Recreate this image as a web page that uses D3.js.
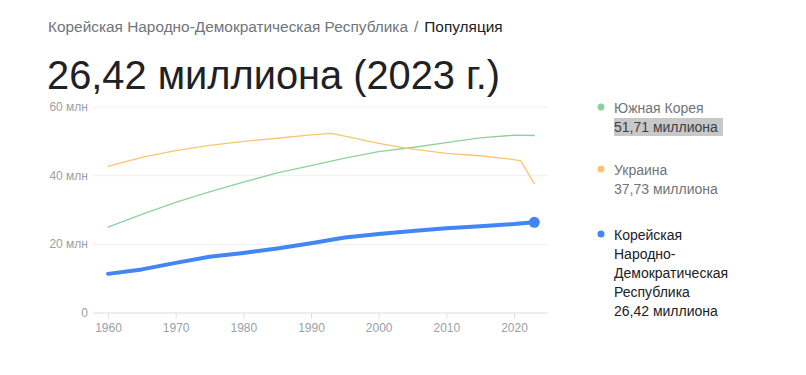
<!DOCTYPE html>
<html>
<head>
<meta charset="utf-8">
<script src="https://cdn.jsdelivr.net/npm/d3@7"></script>
<style>
  body { margin: 0; background: #fff; font-family: "Liberation Sans", Arial, sans-serif; }
  svg text { font-family: "Liberation Sans", Arial, sans-serif; }
</style>
</head>
<body>
<div id="chart"></div>
<script>
// data (millions)
const krYears = [1960, 1965, 1970, 1975, 1980, 1985, 1990, 1995, 2000, 2005, 2010, 2015, 2020, 2023];
const krValues = [25.0, 28.7, 32.2, 35.3, 38.1, 40.8, 42.9, 45.1, 47.0, 48.2, 49.6, 51.0, 51.8, 51.7];

const uaYears = [1960, 1965, 1970, 1975, 1980, 1985, 1990, 1993, 1995, 2000, 2004, 2010, 2015, 2020, 2021, 2023];
const uaValues = [42.7, 45.3, 47.3, 48.8, 50.0, 50.9, 51.9, 52.3, 51.5, 49.4, 48.0, 46.5, 45.8, 44.7, 44.3, 37.7];

const kpYears = [1960, 1965, 1970, 1975, 1980, 1985, 1990, 1995, 2000, 2005, 2010, 2015, 2020, 2023];
const kpValues = [11.4, 12.7, 14.6, 16.4, 17.5, 18.8, 20.3, 22.0, 23.0, 23.9, 24.7, 25.3, 25.9, 26.4];

const yTicks = [0, 20, 40, 60];
const yTickLabels = ["0", "20 млн", "40 млн", "60 млн"];
const xTicks = [1960, 1970, 1980, 1990, 2000, 2010, 2020];

const series = [
  { name: ["Южная Корея"], value: "51,71 миллиона", years: krYears, values: krValues, color: "#8fd19e", width: 1.3, nameColor: "#70757a", valueColor: "#3c4043", highlight: true },
  { name: ["Украина"], value: "37,73 миллиона", years: uaYears, values: uaValues, color: "#fbc56e", width: 1.3, nameColor: "#70757a", valueColor: "#70757a" },
  { name: ["Корейская", "Народно-", "Демократическая", "Республика"], value: "26,42 миллиона", years: kpYears, values: kpValues, color: "#4285f4", width: 4, nameColor: "#202124", valueColor: "#202124", dot: true }
];

const width = 806, height = 375;
const svg = d3.select("#chart").append("svg")
  .attr("width", width).attr("height", height);

// header
const crumb = svg.append("text").attr("x", 48).attr("y", 32).attr("font-size", 15.4);
crumb.append("tspan").attr("fill", "#70757a").text("Корейская Народно-Демократическая Республика");
crumb.append("tspan").attr("fill", "#70757a").attr("dx", 6).text("/");
crumb.append("tspan").attr("fill", "#202124").attr("dx", 6).text("Популяция");

svg.append("text")
  .attr("x", 47).attr("y", 89)
  .attr("font-size", 39.8)
  .attr("fill", "#202124")
  .text("26,42 миллиона (2023 г.)");

// scales
const x = d3.scaleLinear().domain([1960, 2020]).range([108, 514]);
const y = d3.scaleLinear().domain([0, 60]).range([313, 107]);
const plotLeft = 93, plotRight = 548;

// grid
svg.append("g").selectAll("line")
  .data(yTicks)
  .join("line")
  .attr("x1", plotLeft).attr("x2", plotRight)
  .attr("y1", d => y(d)).attr("y2", d => y(d))
  .attr("stroke", d => d === 0 ? "#e8e8e8" : "#efefef")
  .attr("stroke-width", d => d === 0 ? 1.5 : 1);

svg.append("g").selectAll("text")
  .data(yTicks)
  .join("text")
  .attr("x", 88).attr("y", d => y(d) + 4)
  .attr("text-anchor", "end")
  .attr("font-size", 12)
  .attr("fill", "#9aa0a6")
  .text((d, i) => yTickLabels[i]);

// x axis
const xAxis = svg.append("g").attr("transform", `translate(0, ${y(0)})`)
  .call(d3.axisBottom(x).tickValues(xTicks).tickFormat(d3.format("d")).tickSize(6).tickPadding(4));
xAxis.select(".domain").remove();
xAxis.selectAll(".tick line").attr("stroke", "#e0e0e0");
xAxis.selectAll(".tick text").attr("fill", "#9aa0a6").attr("font-size", 12)
  .style("font-family", "'Liberation Sans', Arial, sans-serif");

// lines
const line = d3.line().x(d => x(d[0])).y(d => y(d[1]));
series.forEach(s => {
  const pts = s.years.map((yr, i) => [yr, s.values[i]]);
  svg.append("path")
    .datum(pts)
    .attr("d", line)
    .attr("fill", "none")
    .attr("stroke", s.color)
    .attr("stroke-width", s.width)
    .attr("stroke-linejoin", "round")
    .attr("stroke-linecap", "round");
  if (s.dot) {
    const last = pts[pts.length - 1];
    svg.append("circle")
      .attr("cx", x(last[0])).attr("cy", y(last[1]))
      .attr("r", 5.5).attr("fill", s.color);
  }
});

// legend
const legendTops = [108, 170, 235];
const lineH = 19;
series.forEach((s, i) => {
  const g = svg.append("g");
  const top = legendTops[i];
  g.append("circle").attr("cx", 601).attr("cy", top - 1).attr("r", 3.5).attr("fill", s.color);
  s.name.forEach((t, j) => {
    g.append("text").attr("x", 614).attr("y", top + 5 + j * lineH)
      .attr("font-size", 14).attr("fill", s.nameColor).text(t);
  });
  const vy = top + 5 + s.name.length * lineH;
  if (s.highlight) {
    g.append("rect").attr("x", 614).attr("y", vy - 14).attr("width", 109).attr("height", 18)
      .attr("fill", "#c8c8c8");
  }
  g.append("text").attr("x", 614).attr("y", vy)
    .attr("font-size", 14).attr("fill", s.valueColor).text(s.value);
});
</script>
</body>
</html>
